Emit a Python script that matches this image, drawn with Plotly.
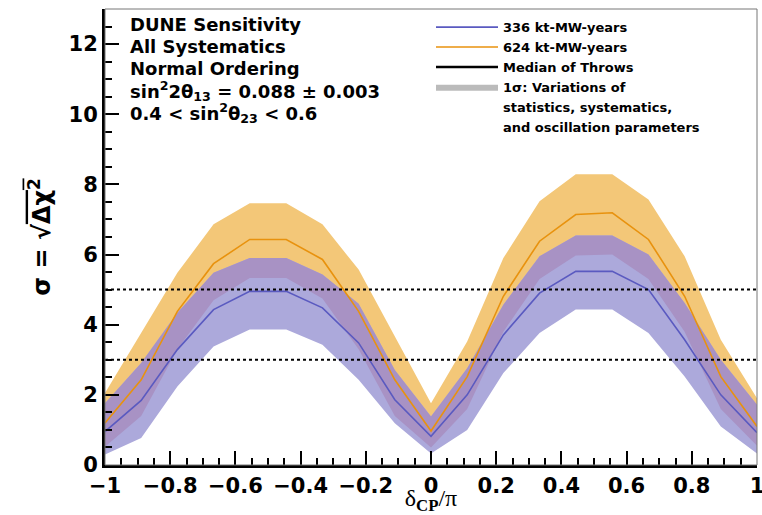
import plotly.graph_objects as go

# delta_CP / pi sample points
delta_cp = [-1.0, -0.889, -0.778, -0.667, -0.556, -0.444, -0.333, -0.222, -0.111, 0.0,
            0.111, 0.222, 0.333, 0.444, 0.556, 0.667, 0.778, 0.889, 1.0]

# 336 kt-MW-years: median of throws and 1 sigma band
med_336 = [0.95, 1.84, 3.29, 4.43, 4.95, 4.95, 4.48, 3.48, 1.86, 0.82,
           2.00, 3.71, 4.90, 5.52, 5.52, 5.00, 3.57, 2.00, 0.92]
hi_336 = [1.76, 2.91, 4.34, 5.48, 5.90, 5.90, 5.43, 4.60, 2.71, 1.38,
          2.76, 4.57, 5.95, 6.54, 6.54, 6.00, 4.62, 3.00, 1.72]
lo_336 = [0.30, 0.77, 2.24, 3.38, 3.86, 3.86, 3.43, 2.43, 1.19, 0.33,
          1.00, 2.62, 3.76, 4.43, 4.43, 3.76, 2.52, 1.10, 0.33]

# 624 kt-MW-years: median of throws and 1 sigma band
med_624 = [1.20, 2.43, 4.38, 5.74, 6.43, 6.43, 5.86, 4.38, 2.43, 0.97,
           2.52, 4.81, 6.38, 7.14, 7.19, 6.43, 4.81, 2.52, 1.10]
hi_624 = [2.05, 3.77, 5.48, 6.86, 7.46, 7.46, 6.86, 5.57, 3.67, 1.76,
          3.52, 5.90, 7.52, 8.29, 8.29, 7.57, 5.95, 3.57, 1.90]
lo_624 = [0.52, 1.40, 3.30, 4.70, 5.33, 5.33, 4.75, 3.30, 1.40, 0.50,
          1.60, 3.80, 5.30, 5.97, 6.00, 5.30, 3.80, 1.60, 0.55]

# significance reference levels
sigma_levels = [3, 5]

# header lines in the upper left
header_lines = [
    "DUNE Sensitivity",
    "All Systematics",
    "Normal Ordering",
    "sin<sup>2</sup>2θ<sub>13</sub> = 0.088 ± 0.003",
    "0.4 < sin<sup>2</sup>θ<sub>23</sub> < 0.6",
]

# legend text of the 1 sigma band entry, one row per line
band_legend_lines = [
    "1σ: Variations of",
    "statistics, systematics,",
    "and oscillation parameters",
]

ORANGE_BAND = "#F3C778"
BLUE_BAND = "#ACA9DB"
OVERLAP = "#A892C4"
BLUE_LINE = "#5A5AC0"
ORANGE_LINE = "#E8920E"
FONT = "DejaVu Sans"

fig = go.Figure()


def band(lo, hi, color):
    fig.add_trace(go.Scatter(x=delta_cp, y=lo, mode="lines", line=dict(width=0),
                             showlegend=False, hoverinfo="skip"))
    fig.add_trace(go.Scatter(x=delta_cp, y=hi, mode="lines", line=dict(width=0),
                             fill="tonexty", fillcolor=color, showlegend=False,
                             hoverinfo="skip"))


band(lo_624, hi_624, ORANGE_BAND)
band(lo_336, hi_336, BLUE_BAND)
# region where both bands overlap
ov_lo = [max(a, b) for a, b in zip(lo_624, lo_336)]
ov_hi = [min(a, b) for a, b in zip(hi_624, hi_336)]
band(ov_lo, ov_hi, OVERLAP)

fig.add_trace(go.Scatter(x=delta_cp, y=med_336, mode="lines", name="336 kt-MW-years",
                         line=dict(color=BLUE_LINE, width=1.6)))
fig.add_trace(go.Scatter(x=delta_cp, y=med_624, mode="lines", name="624 kt-MW-years",
                         line=dict(color=ORANGE_LINE, width=1.6)))
fig.add_trace(go.Scatter(x=[None], y=[None], mode="lines", name="Median of Throws",
                         line=dict(color="black", width=2.5)))
fig.add_trace(go.Scatter(x=[None, None], y=[None, None], mode="lines", fill="toself",
                         fillcolor="#BBBBBB", line=dict(width=0),
                         name=band_legend_lines[0]))
for text in band_legend_lines[1:]:
    fig.add_trace(go.Scatter(x=[None], y=[None], mode="lines", name=text,
                             line=dict(color="rgba(0,0,0,0)", width=0)))

for lvl in sigma_levels:
    fig.add_hline(y=lvl, line=dict(color="black", width=2, dash="dot"))

# thin frame on top and right
fig.add_shape(type="rect", xref="paper", yref="paper", x0=0, x1=1, y0=0, y1=1,
              line=dict(color="#777777", width=1), layer="above")

for i, line in enumerate(header_lines):
    fig.add_annotation(
        xref="paper", yref="paper", x=0.036, y=0.966 - i * 0.0485,
        xanchor="left", yanchor="middle", align="left", showarrow=False,
        font=dict(family=FONT, size=18, color="black", weight="bold"),
        text=line,
    )

fig.update_xaxes(
    range=[-1, 1], dtick=0.2, tick0=-1, ticks="inside", ticklen=14, tickwidth=2,
    tickcolor="black", showline=True, linewidth=3, linecolor="black",
    showgrid=False, zeroline=False, ticklabeloverflow="allow", automargin=False,
    tickfont=dict(family=FONT, size=21, color="black", weight="bold"),
    minor=dict(dtick=0.05, ticks="inside", ticklen=7, tickwidth=2, tickcolor="black"),
    title=dict(text="δ<sub><b>CP</b></sub>/π", standoff=2,
               font=dict(family="Liberation Serif", size=24, color="black")),
)
fig.update_yaxes(
    range=[0, 13], dtick=2, tick0=0, ticks="inside", ticklen=14, tickwidth=2,
    tickcolor="black", showline=True, linewidth=3, linecolor="black",
    showgrid=False, zeroline=False, automargin=False,
    tickfont=dict(family=FONT, size=21, color="black", weight="bold"),
    minor=dict(dtick=0.5, ticks="inside", ticklen=7, tickwidth=2, tickcolor="black"),
    title=dict(text="σ = √<span style=\"text-decoration:overline\">Δχ<sup>2</sup></span>",
               standoff=12,
               font=dict(family=FONT, size=24, color="black", weight="bold")),
)

fig.update_layout(
    width=762, height=515,
    margin=dict(l=105, r=5, t=9, b=50),
    plot_bgcolor="white", paper_bgcolor="white",
    showlegend=True,
    legend=dict(x=0.5, y=0.993, xanchor="left", yanchor="top",
                bgcolor="rgba(0,0,0,0)", valign="middle", tracegroupgap=0,
                traceorder="normal",
                font=dict(family=FONT, size=13, color="black", weight="bold"),
                itemwidth=62),
)

fig.write_html("out.html")
